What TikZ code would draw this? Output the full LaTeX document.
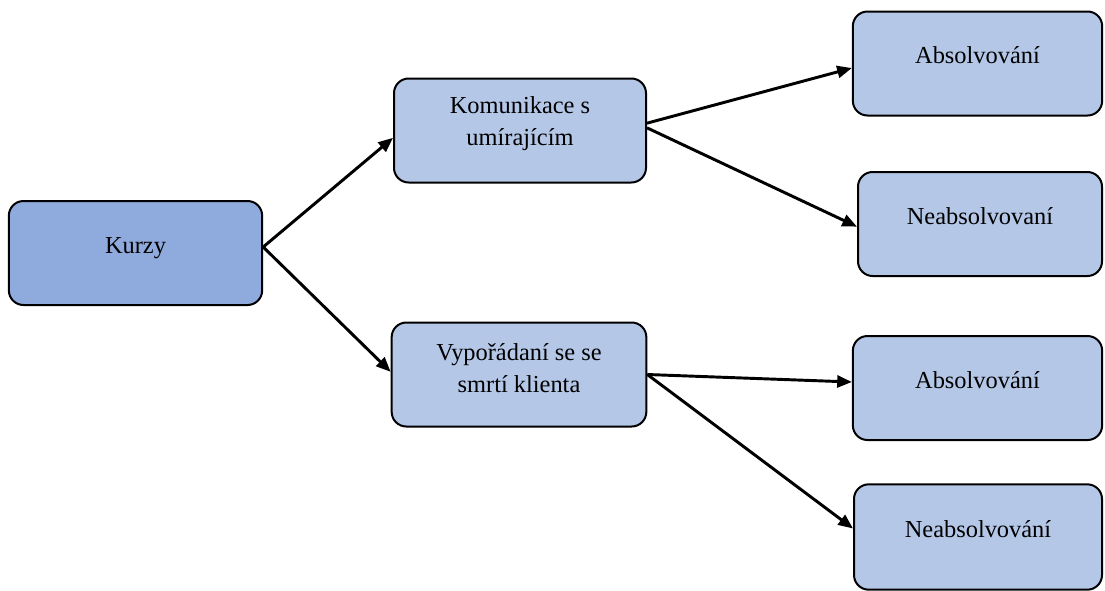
\documentclass[tikz,border=0pt]{standalone}
\usepackage{fontspec}
\setmainfont{Liberation Serif}
\usetikzlibrary{arrows.meta}
\definecolor{rootblue}{HTML}{8FAADC}
\definecolor{leafblue}{HTML}{B4C7E7}

\begin{document}
\begin{tikzpicture}[x=0.75pt,y=-0.75pt,
    box/.style={draw, line width=1.5pt, rounded corners=11pt, fill=leafblue,
      minimum width=189pt, minimum height=78pt, inner sep=0pt},
    txt/.style={font=\fontsize{18.3}{24}\selectfont, align=center, inner sep=0pt},
    arr/.style={line width=2.2pt, -{Triangle[length=11pt,width=9pt]}}]
    \useasboundingbox (0,0) rectangle (1105,590);

    % boxes
    \node[box, fill=rootblue, minimum width=190pt] (kurzy) at (135.5,253) {};
    \node[box] (kom) at (520,130.5) {};
    \node[box, minimum width=191pt] (vyp) at (519,374.5) {};
    \node[box, minimum width=187pt] (abs1) at (977.5,63.5) {};
    \node[box, minimum width=183pt] (neabs1) at (980,224) {};
    \node[box, minimum width=187pt] (abs2) at (977.5,388) {};
    \node[box, minimum width=186pt, minimum height=79pt] (neabs2) at (978,537) {};

    % texts
    \node[txt, anchor=base] (kurzy-t) at (kurzy.center) {Kurzy};
    \node[txt, yshift=5pt] (kom-t) at (kom.center) {Komunikace s\\umírajícím};
    \node[txt, yshift=5pt] (vyp-t) at (vyp.center) {Vypořádaní se se\\smrtí klienta};
    \node[txt, anchor=base] (abs1-t) at (abs1.center) {Absolvování};
    \node[txt, anchor=base] (neabs1-t) at (neabs1.center) {Neabsolvovaní};
    \node[txt, anchor=base] (abs2-t) at (abs2.center) {Absolvování};
    \node[txt, anchor=base] (neabs2-t) at (neabs2.center) {Neabsolvování};

    % arrows
    \draw[arr] ([yshift=4.5pt]kurzy.east) -- ([yshift=-5.5pt]kom.west);
    \draw[arr] ([yshift=4.5pt]kurzy.east) -- ([yshift=2pt]vyp.west);
    \draw[arr] ([yshift=5.5pt]kom.east) -- ([yshift=-3.4pt]abs1.west);
    \draw[arr] ([yshift=2pt]kom.east) -- ([yshift=-2pt]neabs1.west);
    \draw[arr] (vyp.east) -- ([yshift=4.5pt]abs2.west);
    \draw[arr] (vyp.east) -- ([yshift=6.4pt]neabs2.west);
\end{tikzpicture}
\end{document}
